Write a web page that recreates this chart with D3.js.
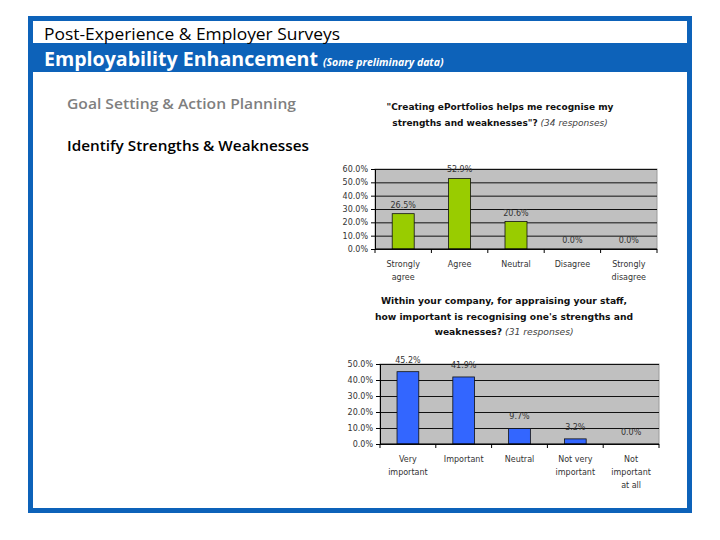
<!DOCTYPE html>
<html>
<head>
<meta charset="utf-8">
<script src="https://cdn.jsdelivr.net/npm/d3@7"></script>
<style>
  body { margin: 0; background: #fff; }
  svg { display: block; }
</style>
</head>
<body>
<script>
// survey 1 : students, 34 responses
var cats1 = ["Strongly\nagree", "Agree", "Neutral", "Disagree", "Strongly\ndisagree"];
var vals1 = [0.265, 0.529, 0.206, 0, 0];
var ticks1 = [0, 0.1, 0.2, 0.3, 0.4, 0.5, 0.6];

// survey 2 : employers, 31 responses
var cats2 = ["Very\nimportant", "Important", "Neutral", "Not very\nimportant", "Not\nimportant\nat all"];
var vals2 = [0.452, 0.419, 0.097, 0.032, 0];
var ticks2 = [0, 0.1, 0.2, 0.3, 0.4, 0.5];

var blue = "#0d62b9";

var svg = d3.select("body").append("svg")
    .attr("width", 720)
    .attr("height", 540);

svg.append("rect").attr("width", 720).attr("height", 540).attr("fill", "#fff");

// frame + header band
svg.append("rect")
    .attr("x", 30.5).attr("y", 18.5)
    .attr("width", 659).attr("height", 492)
    .attr("fill", "none")
    .attr("stroke", blue)
    .attr("stroke-width", 5);

svg.append("rect")
    .attr("x", 32).attr("y", 43)
    .attr("width", 656).attr("height", 29)
    .attr("fill", blue);

svg.append("text")
    .attr("x", 44).attr("y", 40)
    .attr("font-family", "Open Sans")
    .attr("font-size", 15.5)
    .attr("fill", "#000")
    .attr("textLength", 296)
    .attr("lengthAdjust", "spacingAndGlyphs")
    .text("Post-Experience & Employer Surveys");

var h2 = svg.append("text")
    .attr("x", 44).attr("y", 66)
    .attr("font-family", "Open Sans")
    .attr("fill", "#fff");
h2.append("tspan")
    .attr("font-size", 20)
    .attr("font-weight", "bold")
    .attr("textLength", 274)
    .attr("lengthAdjust", "spacingAndGlyphs")
    .text("Employability Enhancement");
h2.append("tspan")
    .attr("dx", 5)
    .attr("font-size", 10.5)
    .attr("font-weight", "bold")
    .attr("font-style", "italic")
    .text("(Some preliminary data)");

svg.append("text")
    .attr("x", 67).attr("y", 109)
    .attr("font-family", "Open Sans")
    .attr("font-size", 14)
    .attr("font-weight", 600)
    .attr("fill", "#7f7f7f")
    .attr("textLength", 229)
    .attr("lengthAdjust", "spacingAndGlyphs")
    .text("Goal Setting & Action Planning");

svg.append("text")
    .attr("x", 67).attr("y", 151)
    .attr("font-family", "Open Sans")
    .attr("font-size", 14)
    .attr("font-weight", 600)
    .attr("fill", "#000")
    .attr("textLength", 242)
    .attr("lengthAdjust", "spacingAndGlyphs")
    .text("Identify Strengths & Weaknesses");

function title(lines, cx, y0, count, fs) {
    lines.forEach(function (l, i) {
        var t = svg.append("text")
            .attr("x", cx).attr("y", y0 + i * 15.5)
            .attr("text-anchor", "middle")
            .attr("font-family", "DejaVu Sans")
            .attr("font-size", fs)
            .attr("font-weight", "bold")
            .attr("fill", "#111");
        t.append("tspan").text(l);
        if (i == lines.length - 1) {
            t.append("tspan")
                .attr("font-weight", "normal")
                .attr("font-style", "italic")
                .attr("fill", "#444")
                .text(" (" + count + " responses)");
        }
    });
}

function chart(cats, vals, ticks, box, color) {
    var x = d3.scaleBand().domain(cats).range([box.x0, box.x1]);
    var y = d3.scaleLinear().domain([0, ticks[ticks.length - 1]]).range([box.y1, box.y0]);
    var g = svg.append("g");

    g.append("rect")
        .attr("x", box.x0).attr("y", box.y0)
        .attr("width", box.x1 - box.x0).attr("height", box.y1 - box.y0)
        .attr("fill", "#c0c0c0")
        .attr("stroke", "#9a9a9a");

    // gridlines
    g.append("g")
        .attr("transform", "translate(" + box.x0 + ",0)")
        .call(d3.axisLeft(y).tickValues(ticks).tickSize(-(box.x1 - box.x0)).tickFormat(""))
        .call(function (s) {
            s.select(".domain").remove();
            s.selectAll("line").attr("stroke", "#111").attr("stroke-width", 1);
        });

    // y axis
    g.append("g")
        .attr("transform", "translate(" + box.x0 + ",0)")
        .call(d3.axisLeft(y).tickValues(ticks).tickSize(4).tickSizeOuter(0).tickFormat(d3.format(".1%")))
        .call(function (s) {
            s.select(".domain").attr("stroke", "#000");
            s.selectAll("line").attr("stroke", "#000");
            s.selectAll("text")
                .attr("font-family", "DejaVu Sans")
                .attr("font-size", 8)
                .attr("fill", "#333");
        });

    // bars
    var bw = x.bandwidth() * 0.39;
    g.selectAll(".bar")
        .data(vals)
        .enter()
        .append("rect")
        .attr("x", function (d, i) { return x(cats[i]) + (x.bandwidth() - bw) / 2; })
        .attr("y", function (d) { return y(d); })
        .attr("width", bw)
        .attr("height", function (d) { return y(0) - y(d); })
        .attr("fill", color)
        .attr("stroke", "#111")
        .attr("stroke-width", 0.8);

    g.selectAll(".val")
        .data(vals)
        .enter()
        .append("text")
        .attr("x", function (d, i) { return x(cats[i]) + x.bandwidth() / 2; })
        .attr("y", function (d) { return y(d) - box.lab; })
        .attr("text-anchor", "middle")
        .attr("font-family", "DejaVu Sans")
        .attr("font-size", 8)
        .attr("fill", "#333")
        .text(function (d) { return d3.format(".1%")(d); });

    // x axis line + ticks between categories
    g.append("line")
        .attr("x1", box.x0).attr("x2", box.x1)
        .attr("y1", box.y1).attr("y2", box.y1)
        .attr("stroke", "#000");
    var edges = cats.map(function (c) { return x(c); }).concat([box.x1]);
    g.selectAll(".xt")
        .data(edges)
        .enter()
        .append("line")
        .attr("x1", function (d) { return d; }).attr("x2", function (d) { return d; })
        .attr("y1", box.y1).attr("y2", box.y1 + 4)
        .attr("stroke", "#000");

    cats.forEach(function (c) {
        var t = g.append("text")
            .attr("text-anchor", "middle")
            .attr("font-family", "DejaVu Sans")
            .attr("font-size", 8)
            .attr("fill", "#333");
        c.split("\n").forEach(function (l, j) {
            t.append("tspan")
                .attr("x", x(c) + x.bandwidth() / 2)
                .attr("y", box.y1 + 18 + j * 13)
                .text(l);
        });
    });
}

title(["\"Creating ePortfolios helps me recognise my", "strengths and weaknesses\"?"], 500, 110, 34, 9);
chart(cats1, vals1, ticks1, { x0: 375, x1: 657, y0: 169, y1: 249, lab: 6 }, "#99cc00");

title(["Within your company, for appraising your staff,", "how important is recognising one's strengths and", "weaknesses?"], 504, 304, 31, 9.2);
chart(cats2, vals2, ticks2, { x0: 380, x1: 659, y0: 364, y1: 444, lab: 9 }, "#3366ff");
</script>
</body>
</html>
